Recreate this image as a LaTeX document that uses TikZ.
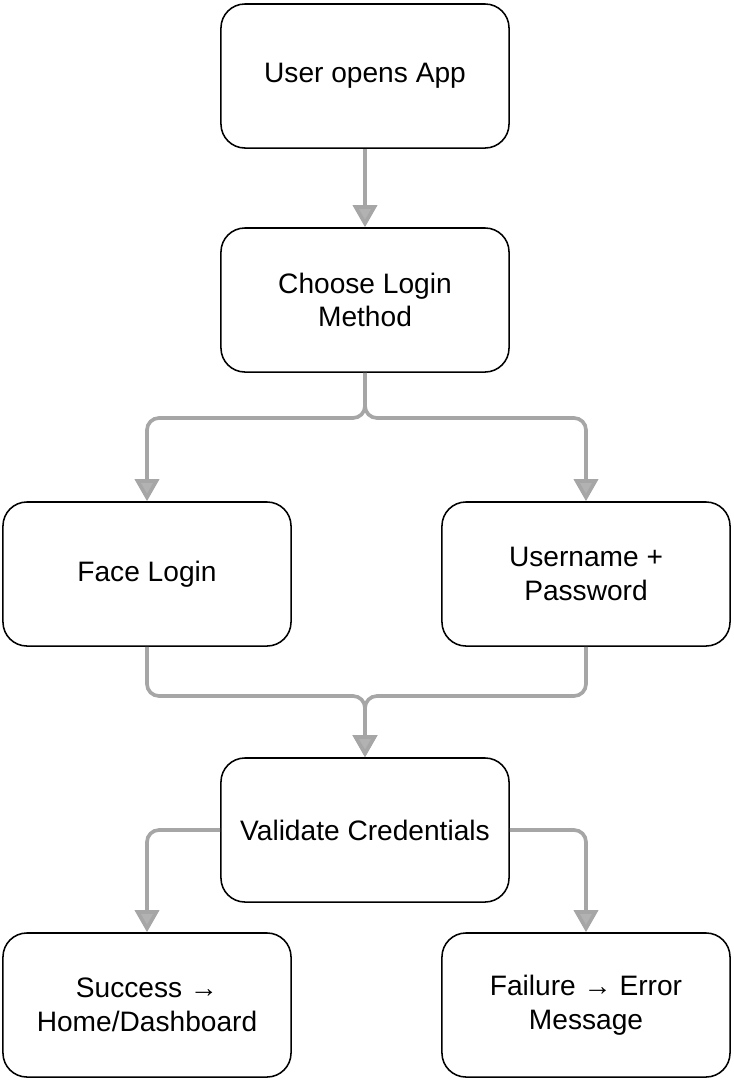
\documentclass[tikz,border=0pt]{standalone}
\usepackage{fontspec}
\setmainfont{Liberation Sans}
\usetikzlibrary{arrows.meta,
                positioning}

\begin{document}
\begin{tikzpicture}[
    x=0.025cm, y=-0.025cm,
        box/.style = {draw, line width=1.1pt, rounded corners=0.6cm,
                      minimum width=7.2cm, minimum height=3.6cm,
                      align=center, font=\fontsize{20}{24}\selectfont},
        flow/.style = {draw=black!35, line width=2.6pt, rounded corners=0.3cm,
                       -{Triangle[length=0.55cm, width=0.6cm, fill=black!30]}}
        ]
    \useasboundingbox (0,0) rectangle (733,1080);

    \node[box] (open)     at (365,76)   {User opens App};
    \node[box] (choose)   at (365,300)  {Choose Login\\Method};
    \node[box] (face)     at (147,574)  {Face Login};
    \node[box] (userpass) at (586,574)  {Username +\\Password};
    \node[box] (validate) at (365,830)  {Validate Credentials};
    \node[box] (success)  at (147,1005) {Success →\\Home/Dashboard};
    \node[box] (failure)  at (586,1005) {Failure → Error\\Message};

    % junction points
    \coordinate (split) at (365,418);
    \coordinate (merge) at (365,696);

    \draw[flow] (open) -- (choose);
    \draw[flow] (choose.south) -- (split) -| (face.north);
    \draw[flow] (choose.south) -- (split) -| (userpass.north);
    \draw[flow] (face.south) |- (merge) -- (validate.north);
    \draw[flow] (userpass.south) |- (merge) -- (validate.north);
    \draw[flow] (validate.west) -| (success.north);
    \draw[flow] (validate.east) -| (failure.north);
\end{tikzpicture}
\end{document}
